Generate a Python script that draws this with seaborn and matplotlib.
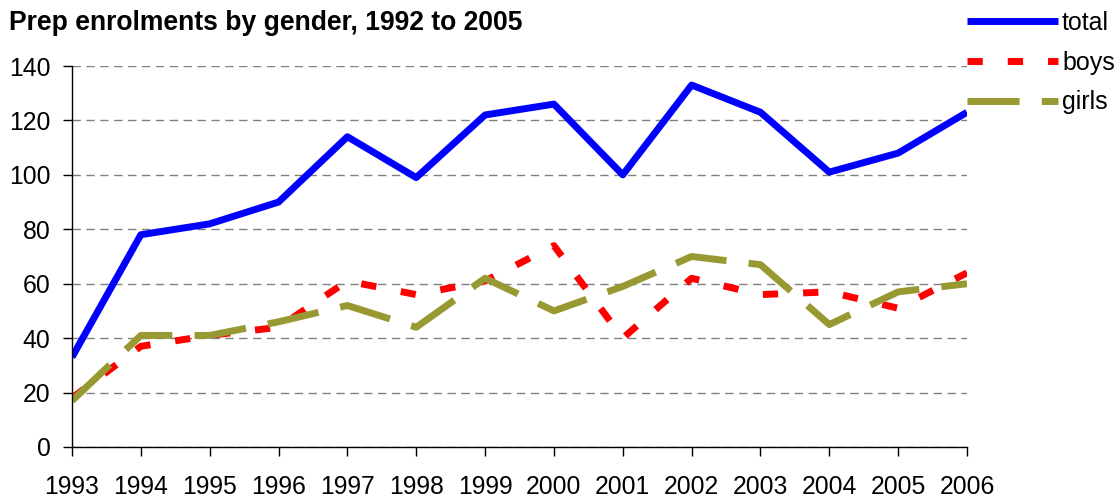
import numpy as np
import pandas as pd
import matplotlib
matplotlib.use("Agg")
import matplotlib.pyplot as plt
import seaborn as sns

# Prep enrolment counts per year
years = [1993, 1994, 1995, 1996, 1997, 1998, 1999, 2000, 2001, 2002, 2003, 2004, 2005, 2006]
total = [33, 78, 82, 90, 114, 99, 122, 126, 100, 133, 123, 101, 108, 123]
boys = [18, 37, 41, 44, 61, 56, 61, 74, 40, 62, 56, 57, 51, 64]
girls = [17, 41, 41, 46, 52, 44, 62, 50, 59, 70, 67, 45, 57, 60]

series_names = ["total", "boys", "girls"]
title = "Prep enrolments by gender, 1992 to 2005"
y_ticks = [0, 20, 40, 60, 80, 100, 120, 140]

sns.set_theme(style="white")
plt.rcParams["font.family"] = ["Liberation Sans", "DejaVu Sans"]

df = pd.DataFrame({"year": years, "total": total, "boys": boys, "girls": girls})

fig = plt.figure(figsize=(11.19, 4.98), dpi=100)
ax = fig.add_axes([72 / 1119, 1 - 447 / 498, (967 - 72) / 1119, (447 - 66) / 498])

lw = 5.0
sns.lineplot(data=df, x="year", y="total", ax=ax, color="#0000FF", lw=lw,
             label=series_names[0], solid_capstyle="butt")
sns.lineplot(data=df, x="year", y="boys", ax=ax, color="#FF0000", lw=lw,
             linestyle=(0, (2.2, 3.6)), label=series_names[1])
sns.lineplot(data=df, x="year", y="girls", ax=ax, color="#999933", lw=lw,
             linestyle=(0, (7.5, 3.2)), label=series_names[2])

ax.set_xlim(1993, 2006)
ax.set_ylim(0, 140)
ax.set_xticks(years)
ax.set_xticklabels([str(y) for y in years])
ax.set_yticks(y_ticks)
ax.set_xlabel("")
ax.set_ylabel("")

ax.yaxis.grid(True, linestyle=(0, (6, 4)), color="#808080", lw=1.0)
ax.xaxis.grid(False)
for side in ["top", "right"]:
    ax.spines[side].set_visible(False)
for side in ["left", "bottom"]:
    ax.spines[side].set_color("black")
    ax.spines[side].set_linewidth(1.0)

ax.tick_params(axis="both", which="major", direction="out", length=6.5, width=1,
               color="black", labelsize=17.8, labelcolor="black")
ax.tick_params(axis="x", bottom=True, pad=14)
ax.tick_params(axis="y", left=True, pad=9)

fig.text(9 / 1119, 1 - 23 / 498, title, fontsize=19.1, fontweight="bold",
         ha="left", va="center", color="black")

leg = ax.legend(loc="upper left", bbox_to_anchor=(967 / 1119, 1 - 11 / 498),
                bbox_transform=fig.transFigure, frameon=False, fontsize=18,
                handlelength=3.64, handletextpad=0.16, labelspacing=0.63,
                borderaxespad=0, borderpad=0)
for t in leg.get_texts():
    t.set_color("black")

fig.savefig("out.png", dpi=100)
